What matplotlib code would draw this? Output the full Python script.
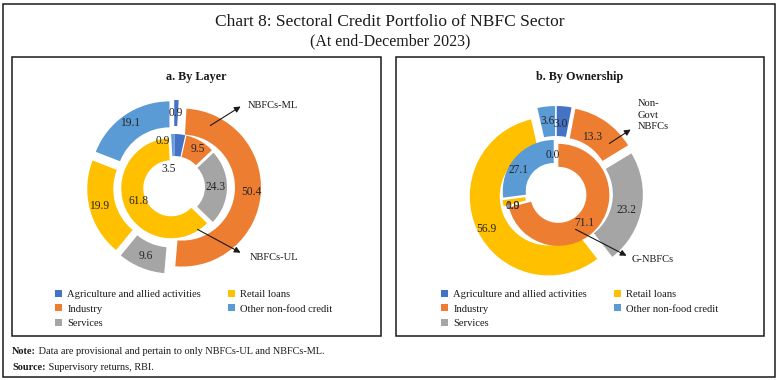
import numpy as np
import matplotlib
matplotlib.use("Agg")
import matplotlib.pyplot as plt
from matplotlib.patches import Rectangle
from matplotlib.legend import Legend

# ---------------- data ----------------
sectors = ["Agriculture and allied activities", "Industry", "Services",
           "Retail loans", "Other non-food credit"]
colors = ["#4472C4", "#ED7D31", "#A5A5A5", "#FFC000", "#5B9BD5"]

layer_ul = [3.5, 9.5, 24.3, 61.8, 0.9]        # inner ring, NBFCs-UL
layer_ml = [0.9, 50.4, 9.6, 19.9, 19.1]       # outer ring, NBFCs-ML
own_gov = [0.0, 71.1, 0.0, 1.9, 27.1]         # inner ring, G-NBFCs
own_nongov = [3.0, 13.3, 23.2, 56.9, 3.6]     # outer ring, Non-Govt NBFCs

title = "Chart 8: Sectoral Credit Portfolio of NBFC Sector"
subtitle = "(At end-December 2023)"
panel_titles = ["a. By Layer", "b. By Ownership"]
note = "Data are provisional and pertain to only NBFCs-UL and NBFCs-ML."
source = "Supervisory returns, RBI."

FONT = "Liberation Serif"
plt.rcParams["font.family"] = [FONT, "DejaVu Serif"]

W, H = 779, 380
fig = plt.figure(figsize=(W / 100, H / 100), dpi=100)
ax = fig.add_axes([0, 0, 1, 1])
ax.set_axis_off()

TXT = "#1a1a1a"
NUM = 8.3
SMALL = 7.6


def Y(y):
    return H - y


# frames
ax.add_patch(Rectangle((3, Y(377)), 772, 373, fill=False, ec=TXT, lw=1.1))
ax.add_patch(Rectangle((12, Y(336)), 369, 279, fill=False, ec=TXT, lw=1.1))
ax.add_patch(Rectangle((396, Y(336)), 368, 279, fill=False, ec=TXT, lw=1.1))

# titles
ax.text(390, Y(22), title, ha="center", va="center", fontsize=12.5, color=TXT)
ax.text(390, Y(41), subtitle, ha="center", va="center", fontsize=11.5, color=TXT)
ax.text(196, Y(77), panel_titles[0], ha="center", va="center", fontsize=8.7,
        fontweight="bold", color=TXT)
ax.text(580, Y(77), panel_titles[1], ha="center", va="center", fontsize=8.7,
        fontweight="bold", color=TXT)


def donut(vals, center, radius, width, expl, nudges=None):
    wedges, _ = ax.pie(vals, radius=radius, center=center, startangle=90,
                       counterclock=False, colors=colors,
                       explode=[expl] * len(vals),
                       wedgeprops=dict(width=width, edgecolor="none"),
                       frame=True)
    nudges = nudges or {}
    for i, (w, v) in enumerate(zip(wedges, vals)):
        th = np.deg2rad((w.theta1 + w.theta2) / 2)
        rm = w.r - w.width / 2
        x = w.center[0] + rm * np.cos(th)
        y = w.center[1] + rm * np.sin(th)
        dx, dy = nudges.get(i, (0, 0))
        ax.text(x + dx, y - dy, f"{v:.1f}", ha="center", va="center",
                fontsize=NUM, color="#262626")
    return wedges


# Panel a
ca = (174, Y(187))
wa = donut(layer_ml, ca, 79, 26, 8, {1: (4, 0), 3: (-3, 0), 4: (-2, -3)})
donut(layer_ul, ca, 50, 22, 3, {0: (-10, 24), 1: (3, -2), 3: (3, -3), 4: (-10, -4)})

# Panel b
cb = (556, Y(193))
wb = donut(own_nongov, cb, 79, 30, 8, {0: (-2, 3), 1: (-5, 3), 2: (0, 4), 3: (-5, 5)})
donut(own_gov, cb, 51, 23, 3, {0: (-3, 5), 1: (-5, 4), 2: (-2, 3), 3: (-2, 5), 4: (-6, 5)})

ax.set_xlim(0, W)
ax.set_ylim(0, H)
ax.set_aspect("auto")

# annotations
arrow = dict(arrowstyle="-|>", color=TXT, lw=0.8, mutation_scale=9)
ax.annotate("", xy=(243, Y(105)), xytext=(208, Y(127)), arrowprops=arrow)
ax.text(248, Y(105), "NBFCs-ML", ha="left", va="center", fontsize=SMALL, color=TXT)
ax.annotate("", xy=(243, Y(254)), xytext=(195, Y(228)), arrowprops=arrow)
ax.text(250, Y(258), "NBFCs-UL", ha="left", va="center", fontsize=SMALL, color=TXT)

ax.annotate("", xy=(633, Y(128)), xytext=(607, Y(145)), arrowprops=arrow)
ax.text(638, Y(115), "Non-\nGovt\nNBFCs", ha="left", va="center", fontsize=SMALL,
        color=TXT, linespacing=1.35)
ax.annotate("", xy=(629, Y(257)), xytext=(573, Y(228)), arrowprops=arrow)
ax.text(632, Y(259), "G-NBFCs", ha="left", va="center", fontsize=SMALL, color=TXT)

# legends
for wedges, x0 in ((wa, 55), (wb, 441)):
    leg = Legend(ax, wedges, sectors, ncol=2, loc="upper left",
                 bbox_to_anchor=(x0, Y(290)), bbox_transform=ax.transData,
                 frameon=False, fontsize=SMALL, handlelength=0.65,
                 handleheight=0.65, handletextpad=0.5, labelspacing=0.48,
                 columnspacing=2.55, borderpad=0, borderaxespad=0)
    for t in leg.get_texts():
        t.set_color(TXT)
    ax.add_artist(leg)

# note and source
tn = ax.text(12, Y(351), "Note:", ha="left", va="center", fontsize=7.4,
             fontweight="bold", color=TXT)
ax.annotate(" " + note, xy=(1, 0.5), xycoords=tn, ha="left", va="center",
            fontsize=7.4, color=TXT)
ts = ax.text(12, Y(367), "Source:", ha="left", va="center", fontsize=7.4,
             fontweight="bold", color=TXT)
ax.annotate(" " + source, xy=(1, 0.5), xycoords=ts, ha="left", va="center",
            fontsize=7.4, color=TXT)

fig.savefig("out.png", dpi=100)
